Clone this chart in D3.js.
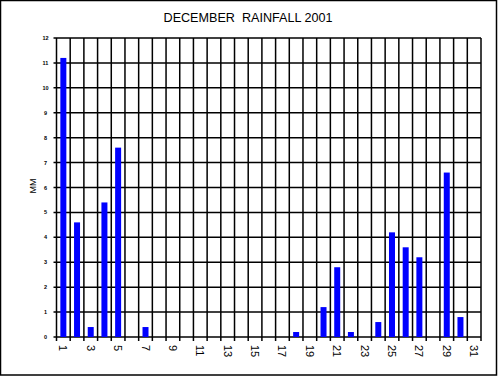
<!DOCTYPE html>
<html>
<head>
<meta charset="utf-8">
<script src="https://cdn.jsdelivr.net/npm/d3@7"></script>
<style>
  body { margin: 0; background: #fff; }
  svg { display: block; font-family: "Liberation Sans", Arial, sans-serif; }
</style>
</head>
<body>
<svg width="498" height="376"></svg>
<script>
// december 2001 daily rainfall, mm
var days = d3.range(1, 32);
var rain = [11.2, 4.6, 0.4, 5.4, 7.6, 0, 0.4, 0, 0, 0,
            0, 0, 0, 0, 0, 0, 0, 0.2, 0, 1.2,
            2.8, 0.2, 0, 0.6, 4.2, 3.6, 3.2, 0, 6.6, 0.8, 0];
var yTicks = d3.range(0, 13);
var xLabels = days.filter(function(d) { return d % 2 == 1; });

var svg = d3.select("svg"),
    width = +svg.attr("width"),
    height = +svg.attr("height");

// plot box (note: "top" is reserved on window, so use plot* names)
var plotL = 56.5, plotR = 481, plotT = 38, plotB = 337;

var x = d3.scaleBand().domain(days).range([plotL, plotR]).padding(0);
var y = d3.scaleLinear().domain([0, 12]).range([plotB, plotT]);

// outer frame
svg.append("rect")
    .attr("x", 0.5).attr("y", 0.5)
    .attr("width", width - 2).attr("height", height - 1.5)
    .attr("fill", "none").attr("stroke", "#000").attr("stroke-width", 1.5);

svg.append("text")
    .attr("x", 248).attr("y", 22)
    .attr("text-anchor", "middle")
    .attr("font-size", 12.6)
    .attr("xml:space", "preserve")
    .text("DECEMBER  RAINFALL 2001");

svg.append("text")
    .attr("transform", "translate(35.5,186) rotate(-90)")
    .attr("text-anchor", "middle")
    .attr("font-size", 9)
    .text("MM");

var grid = svg.append("g").attr("stroke", "#000").attr("stroke-width", 1.5);

// horizontal gridlines
grid.selectAll(".h").data(yTicks).enter().append("line")
    .attr("x1", plotL - 3).attr("x2", plotR)
    .attr("y1", function(d) { return y(d); })
    .attr("y2", function(d) { return y(d); });

// vertical gridlines at day boundaries
var bounds = days.map(function(d) { return x(d); }).concat([plotR]);
grid.selectAll(".v").data(bounds).enter().append("line")
    .attr("x1", function(d) { return d; }).attr("x2", function(d) { return d; })
    .attr("y1", plotT).attr("y2", plotB + 4);

// bars
var bw = 6;
svg.append("g").selectAll("rect").data(rain).enter().append("rect")
    .attr("x", function(d, i) { return x(days[i]) + x.bandwidth() / 2 - bw / 2; })
    .attr("y", function(d) { return y(d); })
    .attr("width", bw)
    .attr("height", function(d) { return plotB - y(d); })
    .attr("fill", "#0000ff");

// y tick labels
svg.append("g").selectAll("text").data(yTicks).enter().append("text")
    .attr("x", plotL - 11)
    .attr("y", function(d) { return y(d) + 2; })
    .attr("text-anchor", "middle")
    .attr("font-size", 5.5)
    .attr("font-weight", "bold")
    .text(function(d) { return d; });

// x tick labels, rotated
svg.append("g").selectAll("text").data(xLabels).enter().append("text")
    .attr("transform", function(d) {
      return "translate(" + (x(d) + x.bandwidth() / 2 - 4) + "," + (plotB + 8) + ") rotate(90)";
    })
    .attr("font-size", 11)
    .text(function(d) { return d; });
</script>
</body>
</html>
